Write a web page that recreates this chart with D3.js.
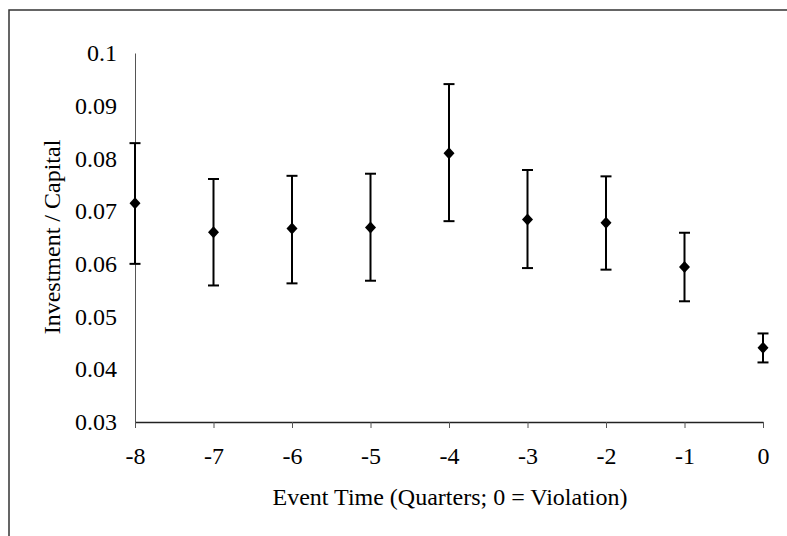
<!DOCTYPE html>
<html><head><meta charset="utf-8">
<script src="https://cdn.jsdelivr.net/npm/d3@7"></script>
<style>body{margin:0;background:#fff}svg text{font-family:"Liberation Serif","Times New Roman",serif;fill:#000}</style>
</head><body><svg id="c" width="787" height="536"></svg>
<script>
const eventTime = [-8,-7,-6,-5,-4,-3,-2,-1,0];
const meanVal  = [0.0715,0.0660,0.0667,0.0669,0.0810,0.0684,0.0678,0.0594,0.0441];
const upperVal = [0.0829,0.0761,0.0767,0.0771,0.0941,0.0778,0.0766,0.0659,0.0468];
const lowerVal = [0.0600,0.0559,0.0563,0.0568,0.0681,0.0592,0.0589,0.0529,0.0413];
const yTicks = [0.03,0.04,0.05,0.06,0.07,0.08,0.09,0.1];
const xTicks = [-8,-7,-6,-5,-4,-3,-2,-1,0];

const svg = d3.select('#c');
svg.append('rect').attr('x',9).attr('y',10).attr('width',800).attr('height',600)
  .attr('fill','none').attr('stroke','#333').attr('stroke-width',1.5);

const x = d3.scaleLinear().domain([-8,0]).range([135,763]);
const y = d3.scaleLinear().domain([0.03,0.1]).range([422,53]);

// y axis (no tick marks)
const ya = svg.append('g').attr('transform','translate(135,0)')
  .call(d3.axisLeft(y).tickValues(yTicks).tickSize(0).tickPadding(18).tickFormat(d=>String(+d.toFixed(2))));
ya.select('.domain').attr('stroke','#555').attr('stroke-width',1);
ya.selectAll('text').attr('font-size',24).attr('font-family','Liberation Serif');

// x axis
const xa = svg.append('g').attr('transform','translate(0,422)')
  .call(d3.axisBottom(x).tickValues(xTicks).tickSize(6).tickSizeOuter(0).tickPadding(19).tickFormat(d=>String(d)));
xa.select('.domain').attr('stroke','#222').attr('stroke-width',1.5);
xa.selectAll('.tick line').attr('stroke','#555');
xa.selectAll('text').attr('font-size',24).attr('font-family','Liberation Serif');

const data = eventTime.map((t,i)=>({t,m:meanVal[i],u:upperVal[i],l:lowerVal[i]}));
const g = svg.append('g');
const cap = 5.5;
g.selectAll('line.v').data(data).join('line').attr('class','v')
  .attr('x1',d=>x(d.t)).attr('x2',d=>x(d.t)).attr('y1',d=>y(d.u)).attr('y2',d=>y(d.l))
  .attr('stroke','#000').attr('stroke-width',2);
g.selectAll('line.cu').data(data).join('line').attr('class','cu')
  .attr('x1',d=>x(d.t)-cap).attr('x2',d=>x(d.t)+cap).attr('y1',d=>y(d.u)).attr('y2',d=>y(d.u))
  .attr('stroke','#000').attr('stroke-width',2);
g.selectAll('line.cl').data(data).join('line').attr('class','cl')
  .attr('x1',d=>x(d.t)-cap).attr('x2',d=>x(d.t)+cap).attr('y1',d=>y(d.l)).attr('y2',d=>y(d.l))
  .attr('stroke','#000').attr('stroke-width',2);
g.selectAll('path.pt').data(data).join('path').attr('class','pt')
  .attr('d',d=>{const cx=x(d.t),cy=y(d.m);return `M${cx},${cy-6}L${cx+5.5},${cy}L${cx},${cy+6}L${cx-5.5},${cy}Z`;})
  .attr('fill','#000');

svg.append('text').attr('x',450).attr('y',505).attr('text-anchor','middle').attr('font-size',24)
  .text('Event Time (Quarters; 0 = Violation)');
svg.append('text').attr('transform','translate(60,237) rotate(-90)').attr('text-anchor','middle').attr('font-size',24)
  .text('Investment / Capital');
</script></body></html>
